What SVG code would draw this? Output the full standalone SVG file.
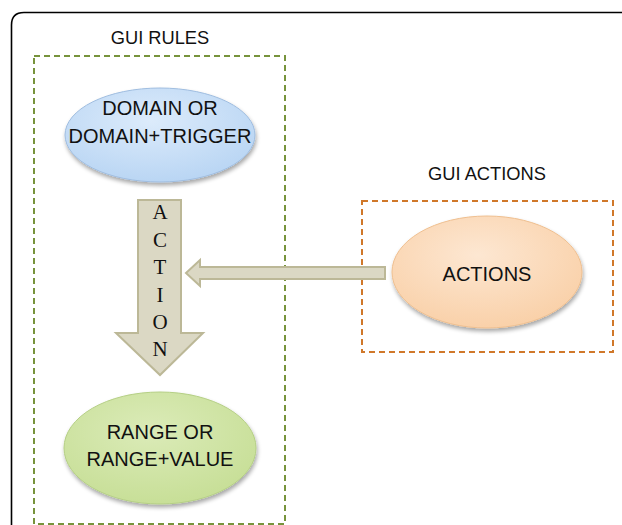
<svg xmlns="http://www.w3.org/2000/svg" width="622" height="525" viewBox="0 0 622 525">
<defs>
  <style>
    .title { font-family: "Liberation Sans", Arial, sans-serif; font-size: 18.3px; fill: #111; text-anchor: middle; }
    .lbl { font-family: "Liberation Sans", Arial, sans-serif; font-size: 20px; fill: #111; text-anchor: middle; }
    .vert { font-family: "Liberation Serif", "Times New Roman", serif; font-size: 21px; fill: #111; text-anchor: middle; }
    .arrow { fill: #dbd8c4; stroke: #bcb897; stroke-width: 2; }
  </style>
  <radialGradient id="gBlue" cx="0.45" cy="0.35" r="0.7">
    <stop offset="0" stop-color="#dcebfb"/>
    <stop offset="1" stop-color="#b7d4f3"/>
  </radialGradient>
  <radialGradient id="gPeach" cx="0.45" cy="0.35" r="0.7">
    <stop offset="0" stop-color="#fde7d2"/>
    <stop offset="1" stop-color="#f9cfa6"/>
  </radialGradient>
  <radialGradient id="gGreen" cx="0.45" cy="0.35" r="0.7">
    <stop offset="0" stop-color="#dbebb8"/>
    <stop offset="1" stop-color="#c6de95"/>
  </radialGradient>
  <filter id="sh" x="-20%" y="-20%" width="140%" height="150%">
    <feGaussianBlur in="SourceAlpha" stdDeviation="2"/>
    <feOffset dx="1" dy="3" result="b"/>
    <feComponentTransfer><feFuncA type="linear" slope="0.35"/></feComponentTransfer>
    <feMerge><feMergeNode/><feMergeNode in="SourceGraphic"/></feMerge>
  </filter>
</defs>
<rect width="622" height="525" fill="#ffffff"/>
<path d="M11.5,530 L11.5,25 Q11.5,12.5 24,12.5 L630,12.5" fill="none" stroke="#000" stroke-width="1.6"/>

<g id="gui-rules">
  <rect x="34" y="56" width="251" height="468" fill="none" stroke="#77933c" stroke-width="2" stroke-dasharray="6,4"/>
  <text class="title" x="160" y="44">GUI RULES</text>
</g>
<g id="gui-actions">
  <rect x="362" y="201" width="251" height="151" fill="none" stroke="#d0782a" stroke-width="2" stroke-dasharray="6,4"/>
  <text class="title" x="487" y="180">GUI ACTIONS</text>
</g>

<g id="connectors">
  <path class="arrow" d="M138,200 L181,200 L181,333 L203,333 L160,375 L116,333 L138,333 Z"/>
  <g id="action-label">
    <text class="vert" x="160" y="219">A</text>
    <text class="vert" x="160" y="247">C</text>
    <text class="vert" x="160" y="274">T</text>
    <text class="vert" x="160" y="302">I</text>
    <text class="vert" x="160" y="329">O</text>
    <text class="vert" x="160" y="356">N</text>
  </g>
  <path class="arrow" d="M385,267 L385,279 L200,279 L200,286 L186,273 L200,260 L200,267 Z"/>
</g>

<g id="domain">
  <ellipse cx="160" cy="135" rx="95" ry="47" fill="url(#gBlue)" stroke="#9fbde0" stroke-width="1" filter="url(#sh)"/>
  <text class="lbl" x="160" y="115">DOMAIN OR</text>
  <text class="lbl" x="160" y="143">DOMAIN+TRIGGER</text>
</g>
<g id="actions">
  <ellipse cx="487" cy="272" rx="95" ry="56" fill="url(#gPeach)" stroke="#efbf8f" stroke-width="1" filter="url(#sh)"/>
  <text class="lbl" x="487" y="281">ACTIONS</text>
</g>
<g id="range">
  <ellipse cx="160" cy="448" rx="96" ry="56" fill="url(#gGreen)" stroke="#b5cf85" stroke-width="1" filter="url(#sh)"/>
  <text class="lbl" x="160" y="439">RANGE OR</text>
  <text class="lbl" x="160" y="466">RANGE+VALUE</text>
</g>
</svg>
